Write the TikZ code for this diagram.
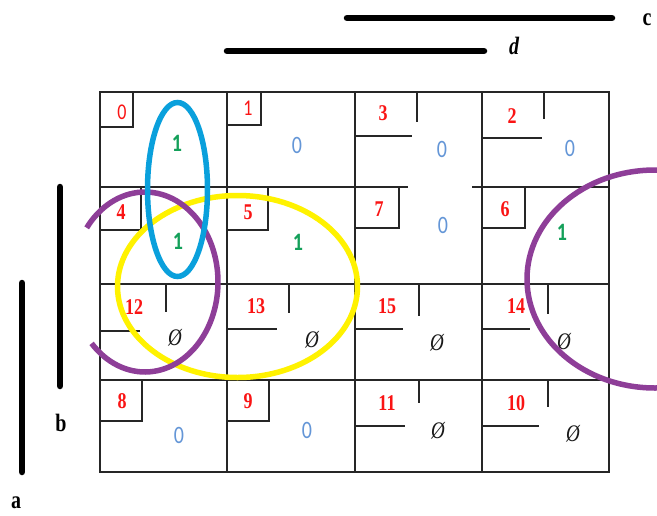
\documentclass[tikz,border=0pt]{standalone}
\usepackage{fontspec}
\setmainfont{Liberation Serif}
\newfontfamily\calfont{Carlito}
\definecolor{idxred}{RGB}{250,20,20}
\definecolor{onegreen}{RGB}{20,160,90}
\definecolor{zeroblue}{RGB}{100,150,215}
\definecolor{kblue}{RGB}{10,160,220}
\definecolor{kyellow}{RGB}{255,242,0}
\definecolor{kpurple}{RGB}{142,62,152}
\begin{document}
\begin{tikzpicture}[x=1pt,y=-1pt,
  gridline/.style={line width=1.3pt,draw=black!85},
  tall/.style={yscale=1.25,transform shape},
  idx/.style={tall,text=idxred,font=\fontsize{18}{19}\selectfont\bfseries,inner sep=0pt},
  idxlight/.style={tall,text=idxred,font=\calfont\fontsize{18}{19}\selectfont,inner sep=0pt},
  one/.style={tall,text=onegreen,font=\calfont\fontsize{20}{21}\selectfont\bfseries,inner sep=0pt},
  zero/.style={tall,text=zeroblue,font=\calfont\fontsize{20}{21}\selectfont,inner sep=0pt},
  dc/.style={tall,text=black!90,font=\fontsize{19}{20}\selectfont\itshape,inner sep=0pt},
  varbar/.style={line width=6.5pt,line cap=round,draw=black},
  varlbl/.style={tall,font=\fontsize{20}{22}\selectfont\bfseries,inner sep=0pt},
  loop/.style={line width=5.5pt}]
\useasboundingbox (0,0) rectangle (657,515);
\fill[white] (0,0) rectangle (657,515);

% grid
\draw[gridline] (100,92) rectangle (609,472);
\draw[gridline] (227,92) -- (227,472);
\draw[gridline] (355,92) -- (355,472);
\draw[gridline] (482,92) -- (482,472);
\draw[gridline] (100,187) -- (408,187);
\draw[gridline] (472,187) -- (609,187);
\draw[gridline] (100,284) -- (609,284);
\draw[gridline] (100,380) -- (609,380);

% index boxes (closed)
\draw[gridline] (100,92) rectangle (133,127);
\draw[gridline] (227,92) rectangle (261,125);
\draw[gridline] (100,187) rectangle (141,230);
\draw[gridline] (227,187) rectangle (268,230);
\draw[gridline] (355,187) rectangle (399,228);
\draw[gridline] (482,187) rectangle (525,228);
\draw[gridline] (100,380) rectangle (142,421);
\draw[gridline] (227,380) rectangle (269,421);
% index boxes (open)
\draw[gridline] (417,92) -- (417,122) (355,136) -- (412,136);
\draw[gridline] (544,92) -- (544,119) (482,138) -- (542,138);
\draw[gridline] (166,284) -- (166,312) (100,331) -- (140,331);
\draw[gridline] (289,284) -- (289,313) (227,329) -- (277,329);
\draw[gridline] (419,284) -- (419,316) (355,329) -- (403,329);
\draw[gridline] (548,284) -- (548,314) (482,329) -- (530,329);
\draw[gridline] (419,380) -- (419,403) (355,426) -- (405,426);
\draw[gridline] (548,380) -- (548,407) (482,426) -- (539,426);

% index labels
\node[idxlight] (i0) at (122,112) {0};
\node[idxlight] (i1) at (248,108) {1};
\node[idx] (i3) at (383,113) {3};
\node[idx] (i2) at (512,116) {2};
\node[idx] (i4) at (121,212) {4};
\node[idx] (i5) at (248,212) {5};
\node[idx] (i7) at (379,209) {7};
\node[idx] (i6) at (505,209) {6};
\node[idx] (i12) at (134,307) {12};
\node[idx] (i13) at (256,306) {13};
\node[idx] (i15) at (387,306) {15};
\node[idx] (i14) at (516,306) {14};
\node[idx] (i8) at (122,401) {8};
\node[idx] (i9) at (248,401) {9};
\node[idx] (i11) at (387,403) {11};
\node[idx] (i10) at (516,403) {10};

% cell values
\node[one] (v0) at (177,143) {1};
\node[zero] (v1) at (297,145) {0};
\node[zero] (v3) at (442,149) {0};
\node[zero] (v2) at (570,148) {0};
\node[one] (v4) at (178,241) {1};
\node[one] (v5) at (298,242) {1};
\node[zero] (v7) at (443,225) {0};
\node[one] (v6) at (562,232) {1};
\node[dc] (v12) at (175,338) {Ø};
\node[dc] (v13) at (312,340) {Ø};
\node[dc] (v15) at (437,343) {Ø};
\node[dc] (v14) at (564,342) {Ø};
\node[zero] (v8) at (179,435) {0};
\node[zero] (v9) at (307,430) {0};
\node[dc] (v11) at (438,431) {Ø};
\node[dc] (v10) at (573,434) {Ø};

% variable bars
\coordinate (c1) at (347,18); \coordinate (c2) at (612,18);
\coordinate (d1) at (227,51); \coordinate (d2) at (484,51);
\coordinate (b1) at (60,187); \coordinate (b2) at (60,386);
\coordinate (a1) at (22,283); \coordinate (a2) at (22,472);
\draw[varbar] (c1) -- (c2);
\draw[varbar] (d1) -- (d2);
\draw[varbar] (b1) -- (b2);
\draw[varbar] (a1) -- (a2);
\node[varlbl] (lc) at (647,20) {c};
\node[varlbl,font=\fontsize{20}{22}\selectfont\bfseries\itshape] (ld) at (514,46) {d};
\node[varlbl] (lb) at (61,423) {b};
\node[varlbl] (la) at (16,503) {a};

% groupings
\draw[loop,kyellow] (237.5,286.5) ellipse [x radius=120, y radius=91];
\draw[loop,kpurple] plot[domain=-143:137,samples=90,smooth] ({145+73*cos(\x)},{282+90*sin(\x)});
\draw[loop,kblue] (177.5,189.5) ellipse [x radius=30, y radius=87];
\begin{scope}
\clip (0,0) rectangle (657,515);
\draw[loop,kpurple] (655,279) ellipse [x radius=128, y radius=109];
\end{scope}
\end{tikzpicture}
\end{document}
